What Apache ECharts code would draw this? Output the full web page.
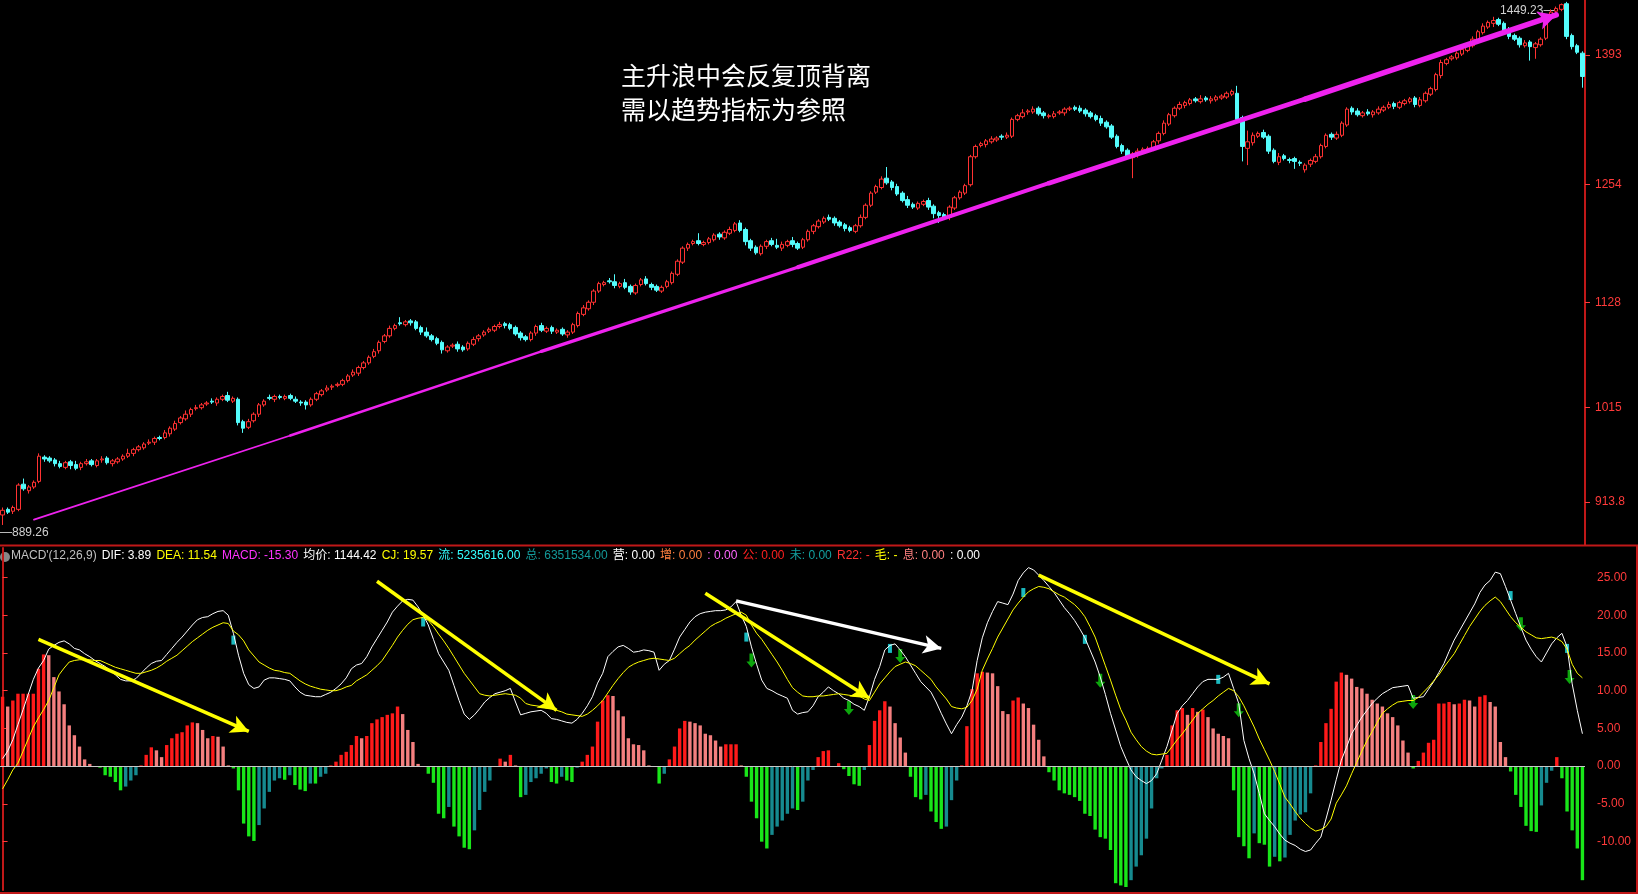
<!DOCTYPE html><html><head><meta charset="utf-8">
<script src="https://cdn.jsdelivr.net/npm/echarts@6/dist/echarts.min.js"></script>
<style>html,body{margin:0;background:#000}#c{width:1638px;height:894px}</style></head><body><div id="c"></div><script>
const opens=[900,906,904,906,933,926,930,936,962,961,
959,955,951,957,954,951,955,958,953,959,
961,955,957,960,963,966,970,972,977,978,
983,983,987,992,999,1003,1008,1014,1015,1019,
1022,1020,1024,1028,1022,1024,1000,994,1001,1008,
1018,1026,1024,1027,1025,1028,1024,1021,1021,1018,
1024,1029,1034,1037,1039,1040,1044,1050,1052,1058,
1063,1070,1076,1086,1092,1100,1106,1104,1108,1107,
1101,1096,1092,1089,1085,1076,1081,1083,1080,1078,
1083,1089,1093,1097,1098,1102,1105,1104,1101,1095,
1091,1088,1095,1103,1097,1101,1096,1099,1093,1096,
1103,1115,1121,1128,1140,1147,1151,1150,1145,1149,
1145,1138,1147,1153,1147,1145,1140,1145,1149,1158,
1171,1186,1191,1194,1190,1192,1195,1201,1197,1202,
1205,1213,1206,1194,1187,1180,1188,1194,1189,1186,
1189,1194,1191,1187,1195,1204,1209,1214,1219,1218,
1214,1211,1208,1204,1210,1219,1232,1246,1251,1261,
1257,1252,1245,1238,1233,1229,1233,1237,1231,1224,
1222,1219,1229,1240,1245,1254,1284,1296,1297,1300,
1302,1306,1305,1306,1324,1327,1332,1332,1336,1331,
1327,1327,1331,1331,1335,1337,1336,1334,1331,1328,
1325,1321,1317,1306,1296,1291,1283,1286,1289,1291,
1292,1301,1309,1319,1328,1336,1339,1341,1346,1343,
1347,1344,1345,1347,1348,1351,1352,1326,1293,1299,
1306,1310,1306,1291,1278,1285,1281,1282,1278,1270,
1276,1279,1284,1295,1308,1304,1307,1318,1336,1333,
1328,1332,1329,1331,1334,1337,1341,1337,1341,1343,
1347,1339,1344,1351,1356,1371,1384,1389,1390,1394,
1398,1403,1409,1417,1423,1427,1431,1427,1420,1414,
1411,1403,1407,1401,1404,1411,1434,1440,1442,1448,
1414,1403,1395];
const closes=[905,903,908,932,928,930,935,963,960,958,
955,952,956,953,950,955,957,954,958,960,
956,958,960,963,966,970,973,976,978,982,
982,988,993,998,1004,1008,1013,1015,1018,1020,
1021,1024,1027,1023,1025,999,993,1000,1008,1018,
1022,1025,1027,1026,1027,1025,1022,1020,1018,1024,
1030,1033,1036,1038,1040,1044,1049,1053,1058,1063,
1069,1075,1085,1092,1100,1103,1105,1107,1106,1100,
1096,1092,1088,1084,1077,1080,1082,1078,1077,1084,
1088,1092,1096,1099,1102,1104,1103,1100,1094,1090,
1088,1095,1102,1098,1100,1097,1098,1094,1096,1104,
1116,1122,1128,1140,1148,1149,1150,1146,1148,1144,
1139,1146,1152,1148,1144,1141,1144,1150,1159,1172,
1186,1190,1193,1191,1192,1196,1200,1198,1203,1206,
1212,1205,1193,1186,1181,1188,1193,1190,1187,1190,
1193,1190,1186,1195,1204,1210,1215,1218,1217,1213,
1210,1207,1205,1210,1219,1232,1245,1252,1260,1256,
1251,1244,1237,1232,1230,1234,1236,1230,1223,1221,
1219,1230,1240,1246,1253,1284,1295,1298,1301,1303,
1304,1305,1307,1324,1328,1331,1333,1335,1330,1328,
1328,1330,1332,1335,1336,1335,1333,1330,1327,1324,
1320,1316,1305,1295,1290,1284,1287,1290,1292,1293,
1300,1309,1320,1329,1336,1340,1342,1345,1344,1346,
1345,1346,1348,1349,1352,1354,1324,1295,1300,1307,
1309,1305,1290,1279,1284,1282,1280,1279,1277,1275,
1280,1284,1296,1307,1305,1308,1320,1335,1332,1329,
1331,1330,1332,1335,1337,1340,1338,1342,1344,1346,
1340,1345,1352,1357,1372,1385,1388,1391,1395,1399,
1404,1410,1418,1424,1428,1430,1426,1419,1413,1410,
1404,1406,1402,1405,1410,1435,1439,1443,1447,1413,
1402,1396,1370];
const upperWick=[3,2,2,2,6,2,2,3,2,2, 2,3,2,2,4,2,3,2,2,3, 2,2,2,2,5,2,2,2,3,2, 2,3,2,3,2,4,2,3,2,2,
3,2,2,4,2,2,2,3,2,2, 2,3,2,2,2,2,3,2,2,2, 2,2,3,2,2,2,2,3,2,2, 2,3,2,2,3,2,6,2,2,2,
2,5,2,2,2,2,2,3,2,2, 3,2,2,2,2,3,2,2,2,2, 2,2,2,3,2,2,2,2,2,2, 2,3,2,2,2,2,3,8,2,4,
2,2,2,3,2,2,2,2,2,2, 2,2,2,8,2,2,2,2,2,3, 2,3,2,2,2,2,2,3,7,3, 2,4,2,2,2,2,2,2,3,2,
2,2,2,2,3,2,2,2,3,12, 2,3,2,4,2,2,2,3,2,2, 2,2,2,2,2,2,2,2,2,3, 2,2,3,2,2,4,2,3,2,2,
2,3,2,2,2,2,3,2,2,2, 3,2,2,2,2,2,2,3,2,2, 2,2,3,2,2,3,2,2,2,4, 2,3,2,2,2,2,8,2,12,3,
2,3,2,2,4,2,2,2,2,2, 2,3,2,2,2,3,2,2,2,3, 2,3,2,3,2,3,2,2,2,2, 2,3,2,2,2,3,2,2,2,3,
2,3,2,3,2,4,2,2,3,2, 2,3,2,2,2,2,3,2,1.23,2, 2,2,2];
const lowerWick=[10.74,2,3,2,2,3,2,2,3,2, 3,2,2,4,2,3,2,2,2,3, 2,3,2,2,2,3,2,2,2,3, 2,2,3,2,2,2,3,2,2,2,
2,3,2,2,2,3,5,2,2,3, 2,2,3,2,2,2,2,3,5,2, 2,2,2,3,2,2,2,2,3,2, 2,2,3,2,2,2,2,2,3,2,
3,2,2,2,4,2,2,3,2,2, 2,3,2,2,2,2,3,2,2,3, 2,2,3,2,2,3,2,2,3,2, 2,2,2,3,2,2,2,3,2,2,
3,2,2,2,3,2,2,2,2,2, 2,3,2,2,2,2,2,3,2,2, 2,2,4,3,2,2,3,2,2,3, 2,3,2,2,2,3,2,2,2,3,
2,3,2,2,2,2,2,2,2,2, 3,2,2,3,2,2,2,3,5,8, 2,3,2,2,2,2,2,2,3,2, 2,3,2,2,2,2,3,2,2,3,
2,2,2,3,2,2,2,3,2,2, 3,2,2,2,3,2,22,3,2,2, 2,3,2,2,2,2,3,2,2,2, 2,3,2,2,2,2,4,16,18,3,
2,2,3,2,3,2,3,8,3,3, 3,2,2,2,3,2,2,2,3,2, 2,2,3,2,2,2,3,2,2,2, 3,2,2,2,2,3,2,2,2,2,
2,2,3,2,2,4,2,2,3,2, 3,2,15,12,2,2,2,2,2,3, 3,2,12];

const dif=[1.0,2.0,3.5,5.5,7.5,9.5,11.5,13.0,14.0,15.5, 16.0,16.4,16.6,16.2,15.6,15.4,14.9,14.5,14.0,13.6,
13.2,12.7,12.1,11.5,11.3,11.3,11.6,12.3,13.0,13.6, 13.9,14.0,14.8,15.6,16.4,17.1,17.9,18.7,19.4,19.7,
19.8,20.2,20.5,20.6,20.0,17.6,14.7,12.3,10.8,10.3, 10.5,11.4,11.7,11.7,11.6,11.5,11.3,10.5,9.8,9.4,
9.3,9.2,9.2,9.5,9.8,10.3,10.9,11.7,12.9,13.4, 13.6,14.5,15.8,16.9,18.0,19.1,20.4,21.2,21.9,22.1,
22.0,21.1,20.0,18.7,16.8,14.9,13.8,12.7,10.7,8.7, 6.9,6.2,6.8,7.6,8.5,9.1,9.6,9.8,10.0,10.3,
8.5,6.8,7.0,7.2,7.3,7.4,7.0,6.3,6.2,6.0, 5.8,5.7,6.2,7.0,8.0,9.2,11.0,12.3,14.5,15.2,
15.8,16.0,15.6,15.1,15.2,15.4,15.3,15.1,12.7,13.5, 14.0,15.5,17.1,18.1,19.1,19.8,20.2,20.4,20.5,20.6,
20.6,20.7,21.1,21.8,20.0,18.5,15.8,13.5,11.4,10.3, 10.0,9.6,9.3,9.0,7.4,6.9,7.1,
7.2,8.0,9.2,9.8,10.5,10.0,9.6,9.0,8.7,8.2, 7.9,7.4,9.2,11.5,13.2,15.4,16.0,16.2,15.4,14.5,
13.4,12.3,11.2,10.5,9.8,8.5,7.0,5.6,4.3,5.5, 6.5,8.0,10.0,14.0,17.0,19.0,20.5,21.8,21.6,21.4,
22.8,24.6,25.6,26.3,26.0,25.3,24.6,23.8,23.0,22.0, 21.0,20.2,19.3,18.2,17.0,15.4,13.8,11.8,9.5,7.0,
4.8,2.6,1.0,-0.5,-1.4,-1.9,-2.3,-1.9,-1.0,0.8, 2.6,4.8,7.0,8.0,8.7,9.6,10.5,11.2,11.5,11.5,
11.5,11.8,12.3,10.3,8.3,3.4,1.0,-1.0,-3.6,-6.3, -7.2,-8.0,-9.0,-9.8,-10.2,-10.5,-11.0,-11.3,-11.1,-10.2,
-9.4,-7.0,-4.5,-1.8,0.8,2.5,4.3,5.4,6.5,7.4, 8.3,9.0,9.6,10.0,10.4,10.5,10.6,10.7,9.0,9.1,
9.2,10.2,11.2,12.4,13.6,15.2,16.7,17.9,19.1,20.3, 21.5,23.0,24.0,24.6,25.7,25.5,23.8,22.0,20.2,18.4,
16.7,15.5,14.5,13.8,15.0,16.2,17.0,17.6,15.8,10.9, 7.4,4.3];
const dea=[-3.0,-1.8,-0.5,0.4,2.0,3.6,5.2,6.4,7.5,8.7, 10.4,12.1,13.0,13.8,14.0,14.1,14.1,14.1,14.0,14.0,
13.7,13.4,13.1,12.9,12.7,12.5,12.3,12.3,12.5,12.7, 13.0,13.4,13.9,14.3,14.7,15.3,15.9,16.5,17.0,17.5,
18.0,18.4,18.7,19.0,18.9,17.9,17.4,16.6,15.4,14.6, 13.8,13.4,13.0,12.7,12.6,12.4,12.3,11.8,11.3,10.9,
10.6,10.4,10.2,10.1,10.0,10.0,10.2,10.5,10.7,11.3, 11.7,12.1,12.7,13.3,14.0,15.0,16.0,17.1,18.0,18.8,
19.4,19.6,19.7,19.3,18.5,17.5,16.6,15.6,14.5,13.4, 12.3,11.4,10.5,9.6,9.4,9.3,9.4,9.5,9.6,9.5,
9.4,9.0,8.3,8.1,8.0,7.9,7.7,7.6,7.4,7.2, 6.9,6.8,6.7,6.6,6.9,7.4,8.0,8.7,9.7,10.7,
11.6,12.4,13.1,13.5,13.8,14.0,14.2,14.3,14.2,14.1, 14.0,14.3,14.9,15.5,16.0,16.7,17.3,17.9,18.5,18.9,
19.2,19.6,19.9,20.2,20.4,20.0,18.7,17.6,16.8,15.8, 14.8,13.8,12.7,11.5,10.4,9.8,9.3,
9.2,9.2,9.3,9.3,9.4,9.5,9.6,9.5,9.4,9.3, 9.3,8.9,8.7,9.8,10.9,11.7,12.5,13.2,13.5,13.8,
13.6,13.3,12.7,12.1,11.5,10.5,9.7,8.9,7.9,7.7, 7.6,7.8,8.7,10.2,12.7,14.2,15.6,17.1,18.3,19.5,
20.7,21.6,22.4,23.1,23.5,23.8,23.7,23.5,23.1,22.7, 22.4,21.9,21.4,20.7,19.8,18.5,17.1,15.2,13.3,11.4,
9.4,7.5,6.1,4.5,3.5,2.6,2.0,1.6,1.5,1.6, 1.7,2.6,3.5,4.3,5.2,6.1,7.0,7.6,8.2,8.7,
9.3,9.8,10.3,10.0,9.2,8.0,6.6,5.2,3.6,2.2, 0.8,-0.7,-2.4,-4.1,-5.0,-6.0,-6.9,-7.6,-8.2,-8.6,
-8.4,-8.0,-7.0,-4.9,-3.8,-2.6,-1.0,0.5,2.0,3.4, 4.6,5.8,7.0,7.6,8.1,8.5,8.6,8.7,8.7,9.1,
9.8,10.5,11.3,12.1,13.1,14.0,14.9,16.1,17.3,18.5, 19.5,20.5,21.3,21.9,22.4,21.8,20.8,19.8,19.0,18.4,
17.8,17.4,17.0,16.9,17.0,17.1,16.9,16.5,15.5,13.5, 12.3,11.7];
const hist=[9.2,7.9,8.7,9.6,9.6,9.6,9.6,12.9,14.8,14.7, 11.8,9.9,8.2,5.4,4.1,2.6,0.9,0.3,-0.1,-0.2,
-1.2,-1.4,-2.1,-3.2,-2.7,-1.9,-1.2,0.1,1.5,2.5, 2.1,1.2,2.8,3.7,4.3,4.5,5.4,5.8,5.7,4.8,
3.7,4.0,3.9,2.6,0.1,-0.3,-3.2,-7.6,-9.3,-9.9, -7.8,-5.6,-3.4,-1.9,-1.6,-1.8,-1.2,-2.5,-3.1,-3.3,
-2.3,-2.3,-1.4,-1.0,0.1,0.6,1.5,1.9,2.8,4.0, 3.7,4.0,5.7,6.2,6.5,6.8,7.0,7.9,6.9,4.8,
3.2,0.3,-0.1,-1.0,-2.2,-6.3,-6.9,-5.4,-8.0,-9.3, -10.8,-11.0,-8.5,-5.8,-3.4,-1.9,-0.1,1.0,0.6,1.5,
0.1,-4.1,-3.8,-2.1,-1.6,-1.0,-0.3,-2.1,-2.3,-1.4, -1.9,-2.1,-0.2,0.6,1.5,2.6,5.9,8.7,9.4,9.3,
7.4,6.6,3.7,2.9,2.8,2.1,0.1,-0.1,-2.3,-1.0, 0.9,2.6,5.0,6.0,5.9,5.7,5.4,4.3,4.1,3.4,
2.6,2.9,2.9,2.9,0.1,-1.4,-4.7,-6.9,-10.0,-10.9, -9.1,-8.0,-7.2,-6.3,-5.6,-5.8,-4.7,
-1.9,-0.5,1.2,2.0,2.1,-0.1,0.4,-0.4,-1.3,-2.4, -2.6,-0.5,2.8,6.0,7.4,8.6,7.9,5.7,3.8,1.8,
-1.4,-4.1,-4.4,-3.8,-6.0,-7.4,-8.3,-8.0,-4.5,-1.9, 0.1,5.3,10.2,12.3,12.5,12.4,12.3,10.6,7.3,6.9,
8.7,9.1,8.3,7.7,5.5,3.5,1.3,-0.8,-1.9,-3.2, -3.6,-3.8,-4.1,-4.6,-6.3,-6.6,-8.4,-9.4,-9.6,-11.1,
-15.5,-15.8,-16.0,-15.1,-13.3,-11.8,-9.6,-5.6,-1.6,-0.3, 1.5,5.4,7.4,7.7,6.8,7.7,7.2,7.5,6.5,5.0,
4.3,4.0,3.7,-3.2,-9.4,-10.6,-12.2,-8.9,-10.2,-10.4, -13.3,-12.0,-12.6,-12.1,-9.1,-7.2,-6.4,-6.1,-3.6,0.1,
3.2,5.7,7.6,11.2,12.4,12.1,11.6,10.5,10.3,9.6, 8.8,8.3,7.9,7.0,6.5,5.4,3.4,1.8,-0.3,0.7,
1.8,3.1,3.5,8.3,8.3,8.5,8.2,8.3,8.8,8.7, 7.9,9.2,9.4,8.5,7.9,3.2,1.2,-0.7,-3.8,-5.4,
-7.9,-8.6,-8.7,-5.2,-2.2,-0.6,1.2,-1.6,-6.0,-8.5, -10.9,-15.1];
const priceTicks=[913.8,1015,1128,1254,1393];
const macdTicks=[-10,-5,0,5,10,15,20,25];
const greenArrowI=[146,165,175,214,241,275,296,305.5];
const greenArrowV=[14.0,7.7,14.6,11.3,7.4,8.5,18.8,11.8];
const cyanMarkI=[45,82,145,173,199,211,237,294,305];
const cyanMarkV=[16.7,19.1,17.1,15.6,23.0,16.8,11.5,22.6,15.6];
const macdArrows=[[7,16.8,48,4.6,'#ffff00'],[73,24.5,108,7.4,'#ffff00'],[137,22.9,169,9.0,'#ffff00'],
[143,21.9,183,15.6,'#ffffff'],[202,25.3,247,10.9,'#ffff00'],[291,28.1,312,19.5,'#ffff00']];
const trendA=[6,895], trendB=[297,1436];
const noteLines=['主升浪中会反复顶背离','需以趋势指标为参照'];
const hdrText=["MACD'(12,26,9)",'DIF: 3.89','DEA: 11.54','MACD: -15.30','均价: 1144.42','CJ: 19.57','流: 5235616.00','总: 6351534.00','营: 0.00','增: 0.00',': 0.00','公: 0.00','未: 0.00','R22: -','毛: -','息: 0.00',': 0.00'];
const hdrColor=['#c0c0c0','#ffffff','#ffff00','#ff33ff','#ffffff','#ffff00','#33ffff','#139999','#ffffff','#ff7f3f','#ff66ff','#ff2020','#13a0a0','#ff3030','#ffff00','#ff8080','#ffffff'];

const candles=opens.map((o,i)=>[o,closes[i],Math.min(o,closes[i])-lowerWick[i],Math.max(o,closes[i])+upperWick[i]]);
const N=hist.length;
const histData=hist.map((v,i)=>{const p=i>0?hist[i-1]:v;let c;
 if(v>=0)c=(v>=p)?'#ff1a1a':'#f47f7f';else c=(v<=p)?'#19e619':'#168a8f';
 return {value:[i,v],itemStyle:{color:c}};});
// trend line split into segments of growing width
const segs=[];const K=6;
for(let k=0;k<K;k++){const t0=k/K,t1=(k+1)/K;
 const a=[trendA[0]+(trendB[0]-trendA[0])*t0,trendA[1]+(trendB[1]-trendA[1])*t0];
 const b=[trendA[0]+(trendB[0]-trendA[0])*t1,trendA[1]+(trendB[1]-trendA[1])*t1];
 segs.push([{coord:a,symbol:'none',lineStyle:{width:1.8+k*0.75}},{coord:b,symbol:k===K-1?'arrow':'none'}]);}
const chart=echarts.init(document.getElementById('c'));
const RED='#ff3a3a';
chart.setOption({
 backgroundColor:'#000',animation:false,
 grid:[{left:0,right:53,top:0,height:545},{left:0,right:53,top:548,height:342}],
 xAxis:[{type:'category',gridIndex:0,data:closes.map((_,i)=>i),show:false,boundaryGap:true},
  {type:'value',gridIndex:1,min:-0.5,max:N-0.5,show:false}],
 yAxis:[{type:'value',gridIndex:0,position:'right',min:867.8,max:1452,splitLine:{show:false},
   axisLine:{show:true,lineStyle:{color:'#c01818',width:2}},
   axisTick:{show:true,customValues:priceTicks,length:5,lineStyle:{color:RED}},
   axisLabel:{customValues:priceTicks,color:RED,fontSize:12,fontFamily:'Arial',margin:10,formatter:v=>String(Math.round(v*10)/10)}},
  {type:'value',gridIndex:1,position:'right',min:-16.4,max:28.9,splitLine:{show:false},
   axisLine:{show:true,lineStyle:{color:'#c01818',width:2}},
   axisTick:{show:true,customValues:macdTicks,length:5,lineStyle:{color:RED}},
   axisLabel:{customValues:macdTicks,color:RED,fontSize:12,fontFamily:'Arial',margin:12,formatter:v=>v.toFixed(2)}}],
 series:[
  {type:'candlestick',xAxisIndex:0,yAxisIndex:0,data:candles,barWidth:4,
   itemStyle:{color:'#000',color0:'#54fcfc',borderColor:'#ff3232',borderColor0:'#54fcfc',borderWidth:1},
   markLine:{silent:true,symbolSize:[14,18],animation:false,
    lineStyle:{color:'#ee22ee',type:'solid',cap:'round'},label:{show:false},data:segs}},
  {type:'bar',xAxisIndex:1,yAxisIndex:1,data:histData,barWidth:3.4,
   markLine:{silent:true,symbol:'none',lineStyle:{color:'#c8c8c8',width:1,type:'solid'},label:{show:false},data:[{yAxis:0}]}},
  {type:'line',xAxisIndex:1,yAxisIndex:1,data:dif.map((v,i)=>[i,v]),showSymbol:false,lineStyle:{color:'#ffffff',width:1}},
  {type:'line',xAxisIndex:1,yAxisIndex:1,data:dea.map((v,i)=>[i,v]),showSymbol:false,lineStyle:{color:'#ffff00',width:1}},
  {type:'scatter',xAxisIndex:1,yAxisIndex:1,data:cyanMarkI.map((v,i)=>[v,cyanMarkV[i]]),symbol:'rect',symbolSize:[4,9],itemStyle:{color:'#22e8f0'}},
  {type:'scatter',xAxisIndex:1,yAxisIndex:1,data:greenArrowI.map((v,i)=>[v,greenArrowV[i]]),symbol:'path://M3,0 L7,0 L7,8 L10,8 L5,14 L0,8 L3,8 Z',symbolSize:[10,14],itemStyle:{color:'#10d010'}},
  {type:'line',xAxisIndex:1,yAxisIndex:1,data:[],clip:false,
   markLine:{silent:true,symbol:['none','arrow'],symbolSize:[14,18],label:{show:false},
    data:macdArrows.map(a=>[{coord:[a[0],a[1]],lineStyle:{color:a[4],width:3.5,type:'solid'}},{coord:[a[2],a[3]]}])}}
 ]
});
const p1=chart.convertToPixel({xAxisIndex:0,yAxisIndex:0},[0,889.26]);
const p2=chart.convertToPixel({xAxisIndex:0,yAxisIndex:0},[298,1449.23]);
const g=[
 {type:'line',shape:{x1:0,y1:545.5,x2:1638,y2:545.5},style:{stroke:'#c01818',lineWidth:2}},
 {type:'line',shape:{x1:0,y1:893,x2:1638,y2:893},style:{stroke:'#c01818',lineWidth:2}},
 {type:'line',shape:{x1:1637,y1:545,x2:1637,y2:894},style:{stroke:'#c01818',lineWidth:2}},
 {type:'circle',shape:{cx:5,cy:557,r:5},style:{fill:'#888'}},
 {type:'text',x:0,y:p1[1]+2,style:{text:'—889.26',fill:'#d0d0d0',fontSize:12,fontFamily:'Arial'}},
 {type:'text',x:p2[0]-6,y:p2[1]+2,style:{text:'1449.23—',fill:'#d0d0d0',fontSize:12,fontFamily:'Arial',align:'right'}},
 {type:'text',x:621,y:58,style:{text:noteLines.join('\n'),fill:'#ffffff',fontSize:25,lineHeight:34,fontFamily:'Noto Sans CJK SC'}}
];
const font='12px Arial, "Noto Sans CJK SC"';
const ctx=document.createElement('canvas').getContext('2d');ctx.font=font;
const widths=hdrText.map(t=>ctx.measureText(t).width);
const total=widths.reduce((a,b)=>a+b,0);
const gap=Math.max(3,(980-11-total)/(hdrText.length-1));
let x=11;
hdrText.forEach((t,i)=>{g.push({type:'text',x:x,y:550,style:{text:t,fill:hdrColor[i],font:font}});x+=widths[i]+gap;});
chart.setOption({graphic:g});
</script></body></html>
